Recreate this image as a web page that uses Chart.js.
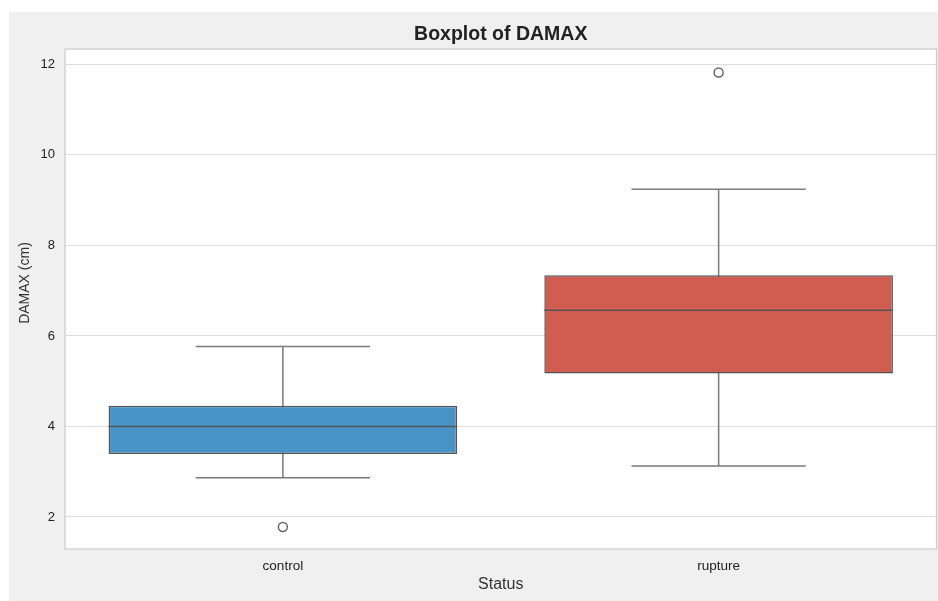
<!DOCTYPE html>
<html>
<head>
<meta charset="utf-8">
<script src="https://cdn.jsdelivr.net/npm/chart.js@4.4.1/dist/chart.umd.min.js"></script>
<style>
  html, body { margin: 0; padding: 0; background: #ffffff; overflow: hidden; }
  #wrap { position: absolute; left: 9px; top: 12px; width: 929px; height: 589px; background: #f0f0f0; }
  #chart { display: block; }
</style>
</head>
<body>
<div id="wrap"><canvas id="chart" width="929" height="589"></canvas></div>
<script>
// datos
const categories = ['control', 'rupture'];
const q1 = [3.39, 5.17];
const median = [4.0, 6.57];
const q3 = [4.46, 7.34];
const whiskerLow = [2.87, 3.13];
const whiskerHigh = [5.77, 9.24];
const outliers = [1.78, 11.82];
const yTicks = [2, 4, 6, 8, 10, 12];
const boxColors = ['#4893c7', '#d05d50'];

const FONT = "'Liberation Sans', Arial, sans-serif";
Chart.defaults.font.family = FONT;

// fondo blanco del area de trazado
const plotBg = {
  id: 'plotBg',
  beforeDraw(chart) {
    const { ctx, chartArea: a } = chart;
    ctx.save();
    ctx.fillStyle = '#ffffff';
    ctx.fillRect(a.left, a.top, a.right - a.left, a.bottom - a.top);
    ctx.restore();
  }
};

// bigotes, medianas, marco y textos
const boxParts = {
  id: 'boxParts',
  beforeDatasetsDraw(chart) {
    const { ctx } = chart;
    const y = chart.scales.y;
    const bars = chart.getDatasetMeta(0).data;
    ctx.save();
    ctx.strokeStyle = '#7a7a7a';
    ctx.lineWidth = 1.5;
    bars.forEach((bar, i) => {
      const cap = bar.width / 4;
      const yl = y.getPixelForValue(whiskerLow[i]);
      const yh = y.getPixelForValue(whiskerHigh[i]);
      ctx.beginPath();
      ctx.moveTo(bar.x, yl); ctx.lineTo(bar.x, yh);
      ctx.moveTo(bar.x - cap, yl); ctx.lineTo(bar.x + cap, yl);
      ctx.moveTo(bar.x - cap, yh); ctx.lineTo(bar.x + cap, yh);
      ctx.stroke();
    });
    ctx.restore();
  },
  afterDatasetsDraw(chart) {
    const { ctx, chartArea: a } = chart;
    const y = chart.scales.y;
    const bars = chart.getDatasetMeta(0).data;
    ctx.save();
    ctx.strokeStyle = '#555555';
    ctx.lineWidth = 1.5;
    bars.forEach((bar, i) => {
      const ym = y.getPixelForValue(median[i]);
      ctx.beginPath();
      ctx.moveTo(bar.x - bar.width / 2, ym);
      ctx.lineTo(bar.x + bar.width / 2, ym);
      ctx.stroke();
    });
    ctx.strokeStyle = '#cccccc';
    ctx.lineWidth = 1.25;
    ctx.strokeRect(a.left, a.top, a.right - a.left, a.bottom - a.top);
    ctx.fillStyle = '#222222';
    ctx.font = 'bold 19.5px ' + FONT;
    ctx.textAlign = 'center';
    ctx.textBaseline = 'middle';
    ctx.fillText('Boxplot of DAMAX', (a.left + a.right) / 2, 23);
    // titulo del eje y
    ctx.fillStyle = '#333333';
    ctx.font = '14px ' + FONT;
    ctx.translate(16, 271);
    ctx.rotate(-Math.PI / 2);
    ctx.fillText('DAMAX (cm)', 0, 0);
    ctx.restore();
  }
};

new Chart(document.getElementById('chart'), {
  type: 'bar',
  data: {
    labels: categories,
    datasets: [
      {
        label: 'box',
        data: categories.map((c, i) => [q1[i], q3[i]]),
        backgroundColor: boxColors,
        borderColor: '#555555',
        borderWidth: 1.5,
        borderSkipped: false,
        categoryPercentage: 0.8,
        barPercentage: 1.0,
        order: 2
      },
      {
        type: 'line',
        label: 'outliers',
        data: outliers,
        showLine: false,
        pointRadius: 4.5,
        pointBorderWidth: 1.5,
        pointBorderColor: '#666666',
        pointBackgroundColor: 'rgba(0,0,0,0)',
        order: 1
      }
    ]
  },
  options: {
    responsive: false,
    animation: false,
    layout: { autoPadding: false, padding: { top: 37, right: 1.5, left: 0, bottom: 0 } },
    plugins: { legend: { display: false }, tooltip: { enabled: false } },
    scales: {
      x: {
        grid: { display: false, drawTicks: false },
        border: { display: false },
        ticks: { color: '#222222', font: { size: 13.5 }, padding: 9 },
        title: { display: true, text: 'Status', color: '#333333', font: { size: 16 }, padding: { top: 0, bottom: 7 } },
        afterFit(scale) {
          scale.height = 52;
          scale.paddingLeft = 0;
          scale.paddingRight = 0;
        }
      },
      y: {
        min: 1.294,
        max: 12.34,
        afterBuildTicks(scale) { scale.ticks = yTicks.map(v => ({ value: v })); },
        grid: { color: '#dddddd', lineWidth: 1.1, drawTicks: false },
        border: { display: false },
        ticks: { color: '#222222', font: { size: 13 }, padding: 10 },
        afterFit(scale) {
          scale.width = 56;
          scale.paddingTop = 0;
          scale.paddingBottom = 0;
        }
      }
    }
  },
  plugins: [plotBg, boxParts]
});
</script>
</body>
</html>
